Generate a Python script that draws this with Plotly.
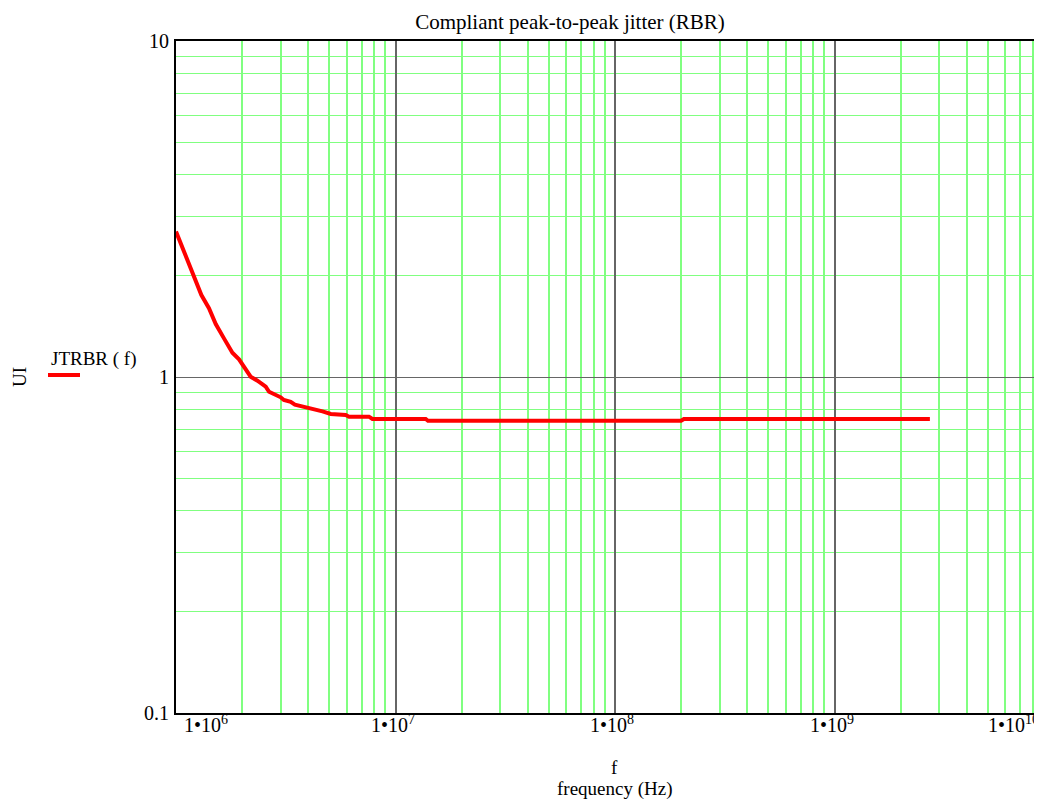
import math
import plotly.graph_objects as go

# ---- data ----
freq_hz = [1.0e6, 1.208e6, 1.305e6, 1.413e6, 1.517e6, 1.654e6, 1.807e6, 1.937e6,
           2.063e6, 2.188e6, 2.35e6, 2.563e6, 2.654e6, 3.0e6, 3.1e6, 3.33e6,
           3.48e6, 3.83e6, 4.18e6, 4.65e6, 5.07e6, 5.93e6, 6.14e6, 7.57e6,
           7.85e6, 1.373e7, 1.406e7, 2.0e8, 2.06e8, 2.72e9]
jitter_ui = [2.71, 1.99, 1.754, 1.602, 1.438, 1.303, 1.181, 1.129,
             1.061, 1.002, 0.975, 0.936, 0.904, 0.870, 0.854, 0.843,
             0.827, 0.816, 0.801, 0.790, 0.776, 0.771, 0.762, 0.762,
             0.750, 0.750, 0.741, 0.741, 0.750, 0.750]

x_decades = [1e6, 1e7, 1e8, 1e9, 1e10]
x_exponents = ["6", "7", "8", "9", "10"]
y_decades = [0.1, 1, 10]
y_tick_labels = ["0.1", "1", "10"]

x_minor = [m * d for d in [1e6, 1e7, 1e8, 1e9] for m in range(2, 10)]
y_minor = [m * d for d in [0.1, 1] for m in range(2, 10)]

FONT = "Liberation Serif, Times New Roman, serif"
OFF = 8                      # page body margin
W, H = 1042 - OFF, 802 - OFF
PLOT_L, PLOT_T, PLOT_B = 176, 41, 713   # frame edges in the screenshot
ML = PLOT_L - OFF
MT = PLOT_T - OFF
MB = H - (PLOT_B - OFF)
MR = 0
PLOT_W = W - ML - MR
PLOT_H = H - MT - MB
PX_PER_DECADE = 219.5
x_range = [6.0, 6.0 + PLOT_W / PX_PER_DECADE]

GREEN = "#80ff80"
GRAY = "#666666"

def px_x(p):
    return (p - PLOT_L) / PLOT_W

def px_y(p):
    return (PLOT_B - p) / PLOT_H

fig = go.Figure()
fig.add_trace(go.Scatter(
    x=freq_hz, y=jitter_ui, mode="lines",
    line=dict(color="#ff0000", width=4),
    showlegend=False, hoverinfo="skip",
))

fig.update_layout(
    width=W, height=H,
    margin=dict(l=ML, r=MR, t=MT, b=MB, pad=0),
    paper_bgcolor="white", plot_bgcolor="white",
    font=dict(family=FONT, size=19, color="black"),
    title=dict(text="Compliant peak-to-peak jitter (RBR)", xref="container",
               x=(570 - OFF) / W, xanchor="center", yref="container",
               y=1 - (22 - OFF) / H, yanchor="middle",
               font=dict(family=FONT, size=21, color="black")),
    xaxis=dict(type="log", range=x_range, tickmode="array", tickvals=x_decades,
               showticklabels=False, ticks="",
               showgrid=True, gridcolor=GRAY, gridwidth=1.5,
               minor=dict(tickmode="array", tickvals=x_minor, showgrid=True,
                          gridcolor=GREEN, gridwidth=1.5, ticks=""),
               showline=True, linecolor="black", linewidth=2, mirror=True,
               zeroline=False),
    yaxis=dict(type="log", range=[-1, 1], tickmode="array", tickvals=y_decades,
               ticktext=y_tick_labels, ticks="", ticklabelstandoff=1,
               tickfont=dict(family=FONT, size=20, color="black"),
               showgrid=True, gridcolor=GRAY, gridwidth=1.2,
               minor=dict(tickmode="array", tickvals=y_minor, showgrid=True,
                          gridcolor=GREEN, gridwidth=1.3, ticks=""),
               showline=True, linecolor="black", linewidth=2, mirror=False,
               zeroline=False),
)

# x tick labels (Mathcad style "1•10^n"), edge labels kept inside the frame
annotations = []
for i, (v, e) in enumerate(zip(x_decades, x_exponents)):
    label = "1•10<sup>" + e + "</sup>"
    if i == 0:
        xa, xv, xs = "left", 0.0, 6
    elif i == len(x_decades) - 1:
        xa, xv, xs = "right", 1.0, -1
    else:
        xa, xv, xs = "center", (math.log10(v) - x_range[0]) / (x_range[1] - x_range[0]), -3
    annotations.append(dict(text=label, xref="paper", yref="paper", x=xv, y=0,
                            xanchor=xa, yanchor="top", xshift=xs, yshift=3,
                            showarrow=False, font=dict(family=FONT, size=20)))

annotations += [
    dict(text="f", xref="paper", yref="paper", x=px_x(614), y=px_y(767),
         xanchor="center", yanchor="middle", showarrow=False,
         font=dict(family=FONT, size=19)),
    dict(text="frequency (Hz)", xref="paper", yref="paper", x=px_x(615), y=px_y(789),
         xanchor="center", yanchor="middle", showarrow=False,
         font=dict(family=FONT, size=19)),
    dict(text="UI", xref="paper", yref="paper", x=px_x(19), y=px_y(377),
         xanchor="center", yanchor="middle", textangle=-90, showarrow=False,
         font=dict(family=FONT, size=19)),
    dict(text="JTRBR ( f)", xref="paper", yref="paper", x=px_x(49), y=px_y(359),
         xanchor="left", yanchor="middle", showarrow=False,
         font=dict(family=FONT, size=19)),
]
fig.update_layout(annotations=annotations)

fig.add_shape(type="line", xref="paper", yref="paper",
              x0=px_x(48), x1=px_x(80), y0=px_y(375), y1=px_y(375),
              line=dict(color="#ff0000", width=4))

fig.write_html("out.html")
